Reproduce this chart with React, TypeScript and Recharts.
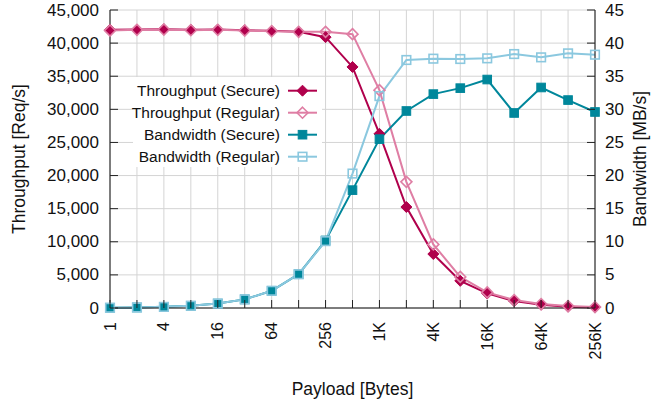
import React from 'react'
import {
  LineChart,
  Line,
  XAxis,
  YAxis,
  CartesianGrid,
} from 'recharts'

// payload sizes, 2^0 .. 2^18 bytes
const PAYLOAD_LABELS = ['1', '2', '4', '8', '16', '32', '64', '128', '256', '512', '1K', '2K', '4K', '8K', '16K', '32K', '64K', '128K', '256K']
const X_TICKS = PAYLOAD_LABELS.map((_, i) => i)

const THROUGHPUT_SECURE = [42000, 42050, 42100, 42000, 42050, 41950, 41850, 41700, 40900, 36400, 26300, 15250, 8150, 4100, 2200, 1050, 500, 200, 80]
const THROUGHPUT_REGULAR = [41900, 42000, 42050, 41950, 42000, 41900, 41800, 41700, 41700, 41350, 32900, 19050, 9600, 4700, 2350, 1200, 600, 300, 150]
const BANDWIDTH_SECURE = [0.04, 0.08, 0.17, 0.34, 0.67, 1.3, 2.6, 5.1, 10.2, 17.8, 25.5, 29.75, 32.3, 33.2, 34.5, 29.45, 33.3, 31.4, 29.6]
const BANDWIDTH_REGULAR = [0.04, 0.08, 0.17, 0.34, 0.67, 1.3, 2.6, 5.1, 10.1, 20.3, 32.0, 37.45, 37.65, 37.6, 37.7, 38.35, 37.85, 38.45, 38.25]

const LEFT_TICKS = [0, 5000, 10000, 15000, 20000, 25000, 30000, 35000, 40000, 45000]
const RIGHT_TICKS = [0, 5, 10, 15, 20, 25, 30, 35, 40, 45]

const FONT = '"Liberation Sans", Arial, Helvetica, sans-serif'
const GRID = '#d4d4d4'

const data = PAYLOAD_LABELS.map((label, i) => ({
  x: i,
  label,
  tpSecure: THROUGHPUT_SECURE[i],
  tpRegular: THROUGHPUT_REGULAR[i],
  bwSecure: BANDWIDTH_SECURE[i],
  bwRegular: BANDWIDTH_REGULAR[i],
}))

type MarkerKind = 'diamondFilled' | 'diamondOpen' | 'squareFilled' | 'squareOpen'

const SERIES: { key: string; name: string; color: string; axis: string; marker: MarkerKind }[] = [
  { key: 'tpSecure', name: 'Throughput (Secure)', color: '#b0004c', axis: 'left', marker: 'diamondFilled' },
  { key: 'tpRegular', name: 'Throughput (Regular)', color: '#df7ea4', axis: 'left', marker: 'diamondOpen' },
  { key: 'bwSecure', name: 'Bandwidth (Secure)', color: '#00879b', axis: 'right', marker: 'squareFilled' },
  { key: 'bwRegular', name: 'Bandwidth (Regular)', color: '#8bc8df', axis: 'right', marker: 'squareOpen' },
]

function Marker({ kind, cx, cy, color }: { kind: MarkerKind; cx: number; cy: number; color: string }) {
  if (kind === 'diamondFilled' || kind === 'diamondOpen') {
    const r = 5.5
    const pts = `${cx},${cy - r} ${cx + r},${cy} ${cx},${cy + r} ${cx - r},${cy}`
    return kind === 'diamondFilled'
      ? <polygon points={pts} fill={color} stroke={color} strokeWidth={1} />
      : <polygon points={pts} fill="none" stroke={color} strokeWidth={1.6} />
  }
  const h = 4.3
  return kind === 'squareFilled'
    ? <rect x={cx - h} y={cy - h} width={h * 2} height={h * 2} fill={color} stroke={color} strokeWidth={1} />
    : <rect x={cx - h} y={cy - h} width={h * 2} height={h * 2} fill="none" stroke={color} strokeWidth={1.6} />
}

const makeDot = (kind: MarkerKind, color: string) => (props: any) => {
  const { cx, cy, index } = props
  if (cx == null || cy == null) return <g key={`${kind}-${index}`} />
  return (
    <g key={`${kind}-${index}`}>
      <Marker kind={kind} cx={cx} cy={cy} color={color} />
    </g>
  )
}

function BottomTick(props: any) {
  const { x, y, payload } = props
  const i = payload.value as number
  return (
    <g>
      <line x1={x} x2={x} y1={y} y2={y - 8} stroke="#222" strokeWidth={1} />
      {i % 2 === 0 && (
        <text
          x={x}
          y={y + 14}
          transform={`rotate(-90 ${x} ${y + 14})`}
          textAnchor="end"
          dominantBaseline="central"
          fontSize={16}
          fontFamily={FONT}
          fill="#111"
        >
          {PAYLOAD_LABELS[i]}
        </text>
      )}
    </g>
  )
}

function TopTick(props: any) {
  const { x, y } = props
  return <line x1={x} x2={x} y1={y} y2={y + 8} stroke="#222" strokeWidth={1} />
}

function LeftTick(props: any) {
  const { x, y, payload } = props
  return (
    <g>
      <line x1={x} x2={x + 8} y1={y} y2={y} stroke="#222" strokeWidth={1} />
      <text x={x - 11} y={y} textAnchor="end" dominantBaseline="central" fontSize={17} fontFamily={FONT} fill="#111">
        {(payload.value as number).toLocaleString('en-US')}
      </text>
    </g>
  )
}

function RightTick(props: any) {
  const { x, y, payload } = props
  return (
    <g>
      <line x1={x} x2={x - 8} y1={y} y2={y} stroke="#222" strokeWidth={1} />
      <text x={x + 10} y={y} textAnchor="start" dominantBaseline="central" fontSize={17} fontFamily={FONT} fill="#111">
        {payload.value}
      </text>
    </g>
  )
}

function ChartLegend() {
  const top = 77
  const rowH = 22
  return (
    <svg
      width={655}
      height={403}
      style={{ position: 'absolute', left: 0, top: 0, pointerEvents: 'none' }}
    >
      <rect x={133} y={top} width={189} height={90} fill="#fff" />
      {SERIES.map((s, i) => {
        const cy = top + 13.7 + i * rowH
        return (
          <g key={s.key}>
            <text x={280} y={cy} textAnchor="end" dominantBaseline="central" fontSize={15.5} fontFamily={FONT} fill="#111">
              {s.name}
            </text>
            <line x1={288} x2={317} y1={cy} y2={cy} stroke={s.color} strokeWidth={2} />
            <Marker kind={s.marker} cx={302.5} cy={cy} color={s.color} />
          </g>
        )
      })}
    </svg>
  )
}

export default function App() {
  return (
    <div style={{ position: 'absolute', left: 0, top: 0, width: 655, height: 403, background: '#fff' }}>
      <LineChart width={655} height={403} data={data} margin={{ top: 10, right: 0, bottom: 0, left: 0 }}>
        <CartesianGrid stroke={GRID} strokeWidth={1} yAxisId="left" />
        <XAxis
          dataKey="x"
          type="number"
          domain={[0, 18]}
          ticks={X_TICKS}
          interval={0}
          height={95}
          stroke="#111"
          tickLine={false}
          tickSize={0}
          tickMargin={0}
          tick={<BottomTick />}
          label={{
            value: 'Payload [Bytes]',
            position: 'insideBottom',
            offset: 8,
            fontSize: 17.5,
            fontFamily: FONT,
            fill: '#111',
          }}
        />
        <XAxis
          xAxisId="top"
          orientation="top"
          type="number"
          domain={[0, 18]}
          ticks={X_TICKS}
          interval={0}
          height={0}
          stroke="#111"
          tickLine={false}
          tickSize={0}
          tickMargin={0}
          tick={<TopTick />}
        />
        <YAxis
          yAxisId="left"
          type="number"
          domain={[0, 45000]}
          ticks={LEFT_TICKS}
          interval={0}
          width={110}
          stroke="#111"
          tickLine={false}
          tickSize={0}
          tickMargin={0}
          tick={<LeftTick />}
          label={{
            content: () => (
              <text x={19} y={159} transform="rotate(-90 19 159)" textAnchor="middle" dominantBaseline="central" fontSize={17.5} fontFamily={FONT} fill="#111">
                Throughput [Req/s]
              </text>
            ),
          }}
        />
        <YAxis
          yAxisId="right"
          orientation="right"
          type="number"
          domain={[0, 45]}
          ticks={RIGHT_TICKS}
          interval={0}
          width={60}
          stroke="#111"
          tickLine={false}
          tickSize={0}
          tickMargin={0}
          tick={<RightTick />}
          label={{
            content: () => (
              <text x={640} y={159} transform="rotate(-90 640 159)" textAnchor="middle" dominantBaseline="central" fontSize={17.5} fontFamily={FONT} fill="#111">
                Bandwidth [MB/s]
              </text>
            ),
          }}
        />
        {SERIES.map((s) => (
          <Line
            key={s.key}
            yAxisId={s.axis}
            dataKey={s.key}
            name={s.name}
            type="linear"
            stroke={s.color}
            strokeWidth={2}
            dot={makeDot(s.marker, s.color)}
            activeDot={false}
            isAnimationActive={false}
          />
        ))}
      </LineChart>
      <ChartLegend />
    </div>
  )
}
